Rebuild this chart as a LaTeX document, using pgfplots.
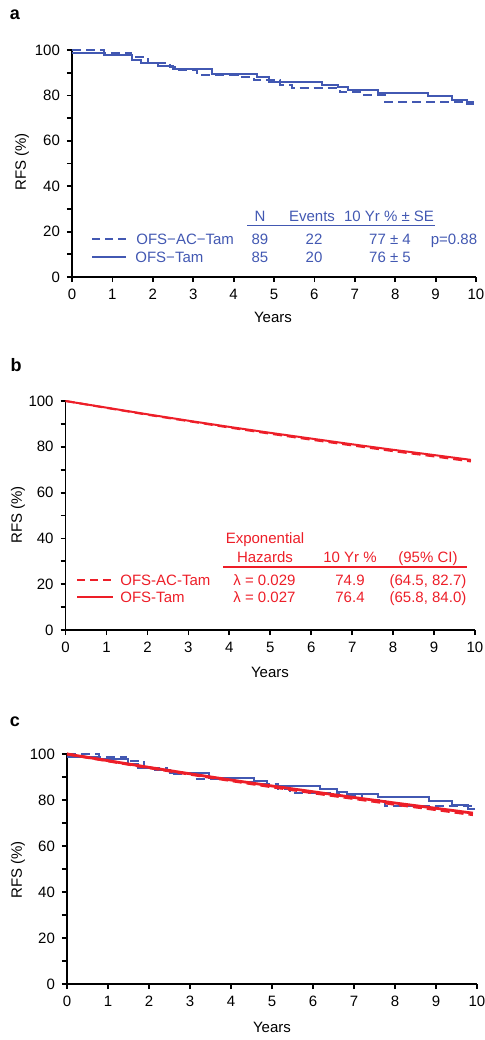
\documentclass[border=0pt]{standalone}
\usepackage{fontspec}
\setmainfont{Liberation Sans}
\usepackage{pgfplots}
\pgfplotsset{compat=1.18}
\usepackage{pgfplotstable}

\definecolor{kmblue}{RGB}{66,88,178}
\definecolor{exred}{RGB}{237,30,40}

% Kaplan-Meier steps
\pgfplotstableread{
t v
0 98.8
0.78 97.8
1.48 95.6
1.72 94.1
2.14 92.9
2.51 91.8
3.46 89.4
4.57 88.2
4.88 86.0
6.18 84.6
6.59 83.6
6.84 82.4
7.58 81.2
8.82 79.6
9.40 78.0
9.77 76.2
9.95 76.2
}\kmtam
\pgfplotstableread{
t v
0 100
0.78 98.8
1.45 97.1
1.88 94.1
2.43 92.6
2.60 91.2
3.09 89.1
4.10 87.9
4.50 86.8
5.15 84.6
5.44 83.1
6.63 81.6
7.20 80.2
7.75 77.2
9.95 77.2
}\kmac
% exponential fits
\pgfplotstableread{
t v
0 100
1 97.1
2 94.2
3 91.4
4 88.7
5 86.1
6 83.6
7 81.1
8 78.7
9 76.4
9.9 74.3
}\extam
\pgfplotstableread{
t v
0 100
1 97.0
2 94.0
3 91.2
4 88.4
5 85.7
6 83.1
7 80.6
8 78.1
9 75.8
9.9 73.6
}\exac

\pgfplotsset{
  rfsaxis/.style={
    scale only axis, anchor=south west,
    axis lines=left, axis line style={-, line width=0.9pt, black},
    xmin=0, xmax=10, ymin=0, ymax=100,
    xtick={0,1,...,10}, ytick={0,20,...,100}, minor y tick num=1,
    tick align=outside, major tick length=2.5pt, minor tick length=2.5pt,
    every tick/.style={black, line width=0.9pt},
    tick label style={font=\fontsize{7.5}{9}\selectfont},
    /pgf/number format/assume math mode=true,
    clip=false,
  },
  kmdash/.style={dash pattern=on 4.5pt off 2.5pt},
}

\newcommand{\lf}{\fontsize{7.5}{9}\selectfont}

\begin{document}
\begin{tikzpicture}
\useasboundingbox (0,0) rectangle (242pt,-520pt);

% panel a
\begin{axis}[rfsaxis, at={(36pt,-138.5pt)}, width=202pt, height=113.5pt]
  \addplot[kmblue, line width=1pt, const plot, kmdash] table {\kmac};
  \addplot[kmblue, line width=1pt, const plot] table {\kmtam};
\end{axis}

% panel b
\begin{axis}[rfsaxis, at={(32.8pt,-315pt)}, width=204.7pt, height=114.5pt]
  \addplot[exred, line width=1pt, kmdash] table {\exac};
  \addplot[exred, line width=1pt] table {\extam};
\end{axis}

% panel c
\begin{axis}[rfsaxis, at={(33.5pt,-492pt)}, width=205pt, height=115pt]
  \addplot[kmblue, line width=1pt, const plot, kmdash] table {\kmac};
  \addplot[kmblue, line width=1pt, const plot] table {\kmtam};
  \addplot[exred, line width=1.4pt, kmdash] table {\exac};
  \addplot[exred, line width=1.4pt] table {\extam};
\end{axis}

\begin{scope}[x=0.5pt, y=-0.5pt, every node/.style={font=\lf, inner sep=0pt}]
  % panel letters
  \node[font=\fontsize{9}{10}\selectfont\bfseries] at (15,15) {a};
  \node[font=\fontsize{9}{10}\selectfont\bfseries] at (16,365) {b};
  \node[font=\fontsize{9}{10}\selectfont\bfseries] at (15,722) {c};
  % axis titles
  \node[rotate=90] at (22,162) {RFS (\%)};
  \node[rotate=90] at (18,515) {RFS (\%)};
  \node[rotate=90] at (18,870) {RFS (\%)};
  \node[anchor=base] at (273,322.4) {Years};
  \node[anchor=base] at (270,677.4) {Years};
  \node[anchor=base] at (272,1032.4) {Years};

  % panel a table
  \begin{scope}[kmblue, every node/.append style={text=kmblue}]
    \node[anchor=base] at (260,221.4) {N};
    \node[anchor=base] at (312,221.4) {Events};
    \node[anchor=base] at (389,221.4) {10 Yr \% ± SE};
    \draw[line width=0.75pt] (247,225.7) -- (435,225.7);
    \draw[line width=1pt, dash pattern=on 4pt off 2.5pt] (92,239) -- (126,239);
    \draw[line width=1pt] (92,257) -- (126,257);
    \node[anchor=base west] at (136,244.4) {OFS−AC−Tam};
    \node[anchor=base west] at (135,262.4) {OFS−Tam};
    \node[anchor=base] at (260,244.4) {89};
    \node[anchor=base] at (260,262.4) {85};
    \node[anchor=base] at (314,244.4) {22};
    \node[anchor=base] at (314,262.4) {20};
    \node[anchor=base] at (390,244.4) {77 ± 4};
    \node[anchor=base] at (390,262.4) {76 ± 5};
    \node[anchor=base] at (454,244.4) {p=0.88};
  \end{scope}

  % panel b table
  \begin{scope}[exred, every node/.append style={text=exred}]
    \node[anchor=base] at (265,543.4) {Exponential};
    \node[anchor=base] at (265,562.4) {Hazards};
    \node[anchor=base] at (350,562.4) {10 Yr \%};
    \node[anchor=base] at (428,562.4) {(95\% CI)};
    \draw[line width=0.75pt] (223,567) -- (467,567);
    \draw[line width=1pt, dash pattern=on 4pt off 2.5pt] (77,580) -- (113,580);
    \draw[line width=1pt] (77,597) -- (113,597);
    \node[anchor=base west] at (120,585.4) {OFS-AC-Tam};
    \node[anchor=base west] at (120,602.4) {OFS-Tam};
    \node[anchor=base west] at (233,585.4) {λ = 0.029};
    \node[anchor=base west] at (233,602.4) {λ = 0.027};
    \node[anchor=base] at (350,585.4) {74.9};
    \node[anchor=base] at (350,602.4) {76.4};
    \node[anchor=base] at (428,585.4) {(64.5, 82.7)};
    \node[anchor=base] at (428,602.4) {(65.8, 84.0)};
  \end{scope}
\end{scope}
\end{tikzpicture}
\end{document}
